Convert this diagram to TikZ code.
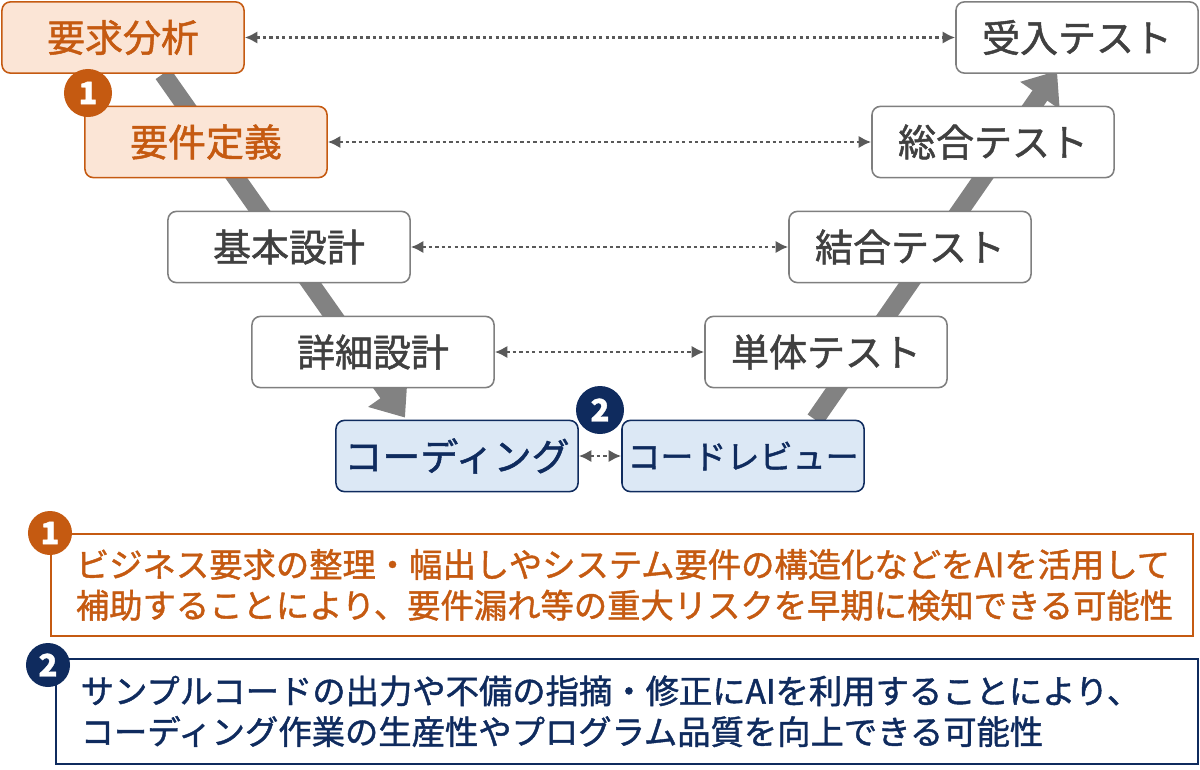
\documentclass[tikz,border=0pt]{standalone}
\usepackage{fontspec}
\setmainfont{Noto Sans CJK JP}[FakeBold=1.3]
\usetikzlibrary{arrows.meta, backgrounds, calc}
\definecolor{vorange}{HTML}{C55A11}
\definecolor{vpeach}{HTML}{FBE5D6}
\definecolor{vnavy}{HTML}{0F2B5E}
\definecolor{vblue}{HTML}{DCE8F5}
\definecolor{vgrey}{HTML}{7F7F7F}
\definecolor{vtext}{HTML}{404040}
\definecolor{vband}{HTML}{828282}
\definecolor{vdot}{HTML}{595959}
\tikzset{x=.025cm, y=-.025cm}
\tikzset{
  phase/.style={draw=vgrey, fill=white, text=vtext, rounded corners=6pt,
    line width=1.1pt, minimum width=6.05cm, minimum height=1.78cm, inner xsep=0pt,
    font=\fontsize{27}{32}\selectfont},
  reqphase/.style={phase, draw=vorange, fill=vpeach, text=vorange},
  codephase/.style={phase, draw=vnavy, fill=vblue, text=vnavy},
  badge/.style={circle, fill=#1, text=white, inner sep=0pt, minimum size=1.2cm,
    font=\fontsize{22}{22}\selectfont\bfseries},
  note/.style={draw=#1, text=#1, line width=1.3pt, anchor=north west, align=left,
    inner xsep=.62cm, text width=27.3cm, font=\fontsize{23.7}{29}\selectfont},
  link/.style={vdot, line width=2pt, dash pattern=on 2.4pt off 2.2pt,
    {Latex[length=9pt,width=9pt]}-{Latex[length=9pt,width=9pt]}},
  band/.style={vband, line width=.45cm, -{Triangle[length=.75cm,width=1.15cm]}}
}

\begin{document}
\begin{tikzpicture}
\useasboundingbox (0,0) rectangle (1200,769);

% left side of the V
\node[reqphase] (reqa) at (123,37.5) {要求分析};
\node[reqphase] (reqd) at (206,142) {要件定義};
\node[phase] (basic) at (289,247) {基本設計};
\node[phase] (detail) at (373,352) {詳細設計};
\node[codephase] (coding) at (457,456) {コーディング};

% right side of the V
\node[codephase, font=\fontsize{23.5}{28}\selectfont] (review) at (743,456) {コードレビュー};
\node[phase] (unit) at (826,352) {単体テスト};
\node[phase] (integ) at (910,247) {結合テスト};
\node[phase] (systest) at (993,142) {総合テスト};
\node[phase] (accept) at (1077,37.5) {受入テスト};

% badges
\node[badge=vorange] (b1) at (88,93) {1};
\node[badge=vnavy] (b2) at (600,410) {2};

% the V itself
\begin{scope}[on background layer]
  \draw[band] ($(reqa.south)+(40,0)$) -- ($(coding.north)+(-52,-2)$);
  \draw[band] ($(review.north)+(72,0)$) -- ($(accept.south)+(-20,-3)$);
\end{scope}

% links between the two sides
\draw[link] (reqa.east) -- (accept.west);
\draw[link] (reqd.east) -- (systest.west);
\draw[link] (basic.east) -- (integ.west);
\draw[link] (detail.east) -- (unit.west);
\draw[link] (coding.east) -- (review.west);

% notes
\node[note=vorange, minimum width=28.55cm, minimum height=2.55cm] (note1) at (50,533)
  {ビジネス要求の整理・幅出しやシステム要件の構造化などをAIを活用して\\
   補助することにより、要件漏れ等の重大リスクを早期に検知できる可能性};
\node[note=vnavy, minimum width=28.4cm, minimum height=2.62cm] (note2) at (55,658)
  {サンプルコードの出力や不備の指摘・修正にAIを利用することにより、\\
   コーディング作業の生産性やプログラム品質を向上できる可能性};
\node[badge=vorange, minimum size=1.1cm] (n1) at (note1.north west) {1};
\node[badge=vnavy, minimum size=1.1cm] (n2) at ($(note2.north west)+(-7,7)$) {2};
\end{tikzpicture}
\end{document}
